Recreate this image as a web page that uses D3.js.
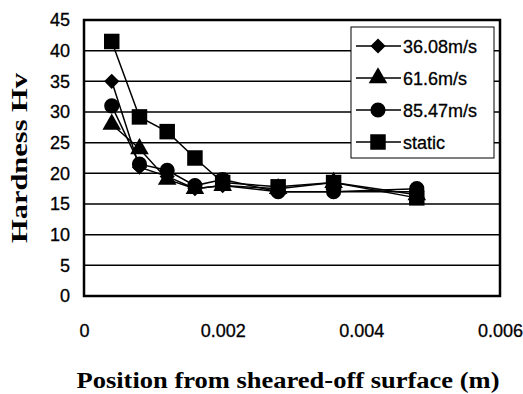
<!DOCTYPE html>
<html>
<head>
<meta charset="utf-8">
<script src="https://cdn.jsdelivr.net/npm/d3@7"></script>
<style>
  body { margin: 0; background: #fff; }
  svg text { fill: #000; }
</style>
</head>
<body>
<div id="chart"></div>
<script>
// positions (m)
const positions = [0.0004, 0.0008, 0.0012, 0.0016, 0.002, 0.0028, 0.0036, 0.0048];
const hv3608 = [35, 21, 19.5, 17.5, 18, 17, 17, 17];
const hv616 = [28, 24, 19, 17.5, 18, 17.5, 18.5, 16.5];
const hv8547 = [31, 21.5, 20.5, 18, 19, 17, 17, 17.5];
const hvStatic = [41.5, 29.2, 26.8, 22.5, 18.5, 17.8, 18.5, 16];
const seriesNames = ["36.08m/s", "61.6m/s", "85.47m/s", "static"];
const seriesMarkers = ["diamond", "triangle", "circle", "square"];
const xTicks = [0, 0.002, 0.004, 0.006];
const xTickLabels = ["0", "0.002", "0.004", "0.006"];
const yTicks = [0, 5, 10, 15, 20, 25, 30, 35, 40, 45];

const W = 523, H = 394;
const margin = { top: 20, right: 23, bottom: 98, left: 84 };
const iw = W - margin.left - margin.right;
const ih = H - margin.top - margin.bottom;

const svg = d3.select("#chart").append("svg")
    .attr("width", W).attr("height", H);

const x = d3.scaleLinear().domain([0, 0.006]).range([0, iw]);
const y = d3.scaleLinear().domain([0, 45]).range([ih, 0]);

const g = svg.append("g").attr("transform", `translate(${margin.left},${margin.top})`);

// horizontal gridlines
g.selectAll(".grid").data(yTicks.slice(1, -1)).enter().append("line")
    .attr("x1", 0).attr("x2", iw)
    .attr("y1", d => y(d)).attr("y2", d => y(d))
    .attr("stroke", "#000").attr("stroke-width", 1.5);

// y axis labels
const yAxis = g.append("g")
    .call(d3.axisLeft(y).tickValues(yTicks).tickSize(0).tickPadding(14));
yAxis.select(".domain").remove();
yAxis.selectAll("text")
    .attr("font-family", "Liberation Sans, Arial, sans-serif")
    .attr("font-size", 18).attr("fill", "#000")
    .attr("stroke", "#000").attr("stroke-width", 0.3);

// x axis labels
const xAxis = g.append("g").attr("transform", `translate(0,${ih})`)
    .call(d3.axisBottom(x).tickValues(xTicks).tickFormat((d, i) => xTickLabels[i]).tickSize(0).tickPadding(28));
xAxis.select(".domain").remove();
xAxis.selectAll("text")
    .attr("font-family", "Liberation Sans, Arial, sans-serif")
    .attr("font-size", 18).attr("fill", "#000")
    .attr("stroke", "#000").attr("stroke-width", 0.3);

const allSeries = [hv3608, hv616, hv8547, hvStatic];

// diamond = square turned 45deg
const sym = {
    diamond: d3.symbol().type(d3.symbolSquare).size(115),
    triangle: d3.symbol().type(d3.symbolTriangle).size(150),
    circle: d3.symbol().type(d3.symbolCircle).size(180),
    square: d3.symbol().type(d3.symbolSquare).size(240)
};
const rot = m => (m === "diamond" ? " rotate(45)" : "");

const line = d3.line().x(d => x(d[0])).y(d => y(d[1]));

allSeries.forEach((vals, si) => {
    const pts = positions.map((p, i) => [p, vals[i]]);
    const m = seriesMarkers[si];
    g.append("path").datum(pts)
        .attr("d", line)
        .attr("fill", "none").attr("stroke", "#000").attr("stroke-width", 1.5);
    g.selectAll(".m" + si).data(pts).enter().append("path")
        .attr("transform", d => `translate(${x(d[0])},${y(d[1])})` + rot(m))
        .attr("d", sym[m]())
        .attr("fill", "#000");
});

// plot frame
g.append("rect").attr("x", 0).attr("y", 0).attr("width", iw).attr("height", ih)
    .attr("fill", "none").attr("stroke", "#000").attr("stroke-width", 2.5);

// legend
const lg = svg.append("g").attr("transform", "translate(351,27)");
lg.append("rect").attr("width", 143).attr("height", 131)
    .attr("fill", "#fff").attr("stroke", "#000").attr("stroke-width", 1);
seriesNames.forEach((name, i) => {
    const cy = 19 + i * 32;
    const m = seriesMarkers[i];
    lg.append("line").attr("x1", 5).attr("x2", 50).attr("y1", cy).attr("y2", cy)
        .attr("stroke", "#000").attr("stroke-width", 1.5);
    lg.append("path").attr("transform", `translate(27,${cy})` + rot(m))
        .attr("d", sym[m]()).attr("fill", "#000");
    lg.append("text").attr("x", 52).attr("y", cy + 7)
        .attr("font-family", "Liberation Sans, Arial, sans-serif")
        .attr("font-size", 18)
        .attr("stroke", "#000").attr("stroke-width", 0.3)
        .text(name);
});

// axis titles
svg.append("text")
    .attr("x", 288).attr("y", 388)
    .attr("text-anchor", "middle")
    .attr("font-family", "Liberation Serif, Times New Roman, serif")
    .attr("font-weight", "bold").attr("font-size", 23)
    .attr("textLength", 423).attr("lengthAdjust", "spacingAndGlyphs")
    .text("Position from sheared-off surface (m)");

svg.append("text")
    .attr("transform", "translate(27,158) rotate(-90)")
    .attr("text-anchor", "middle")
    .attr("font-family", "Liberation Serif, Times New Roman, serif")
    .attr("font-weight", "bold").attr("font-size", 24)
    .attr("textLength", 170).attr("lengthAdjust", "spacingAndGlyphs")
    .text("Hardness Hv");
</script>
</body>
</html>
